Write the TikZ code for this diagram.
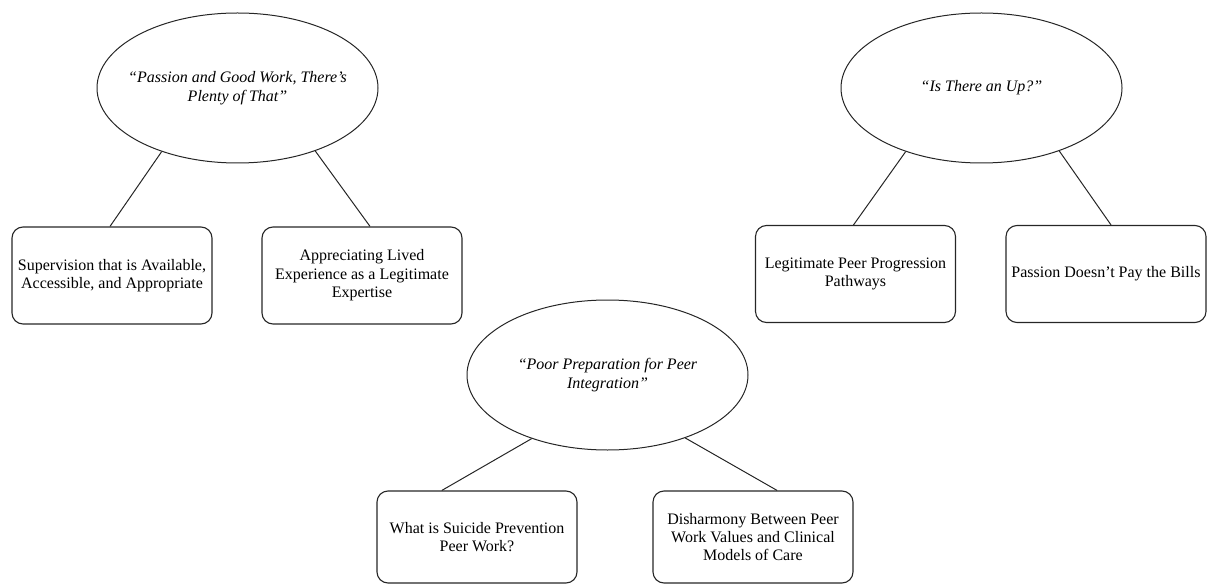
\documentclass[tikz,border=0pt]{standalone}
\usepackage{fontspec}
\setmainfont{Liberation Serif}
\usetikzlibrary{shapes.geometric,calc}
\begin{document}
\begin{tikzpicture}[x=1pt,y=-1pt,
  txt/.style={font=\fontsize{16}{18.4}\selectfont},
  theme/.style={draw=black!85,line width=1pt,ellipse,minimum width=281pt,minimum height=150pt,inner sep=0pt},
  sub/.style={draw=black!85,line width=1.1pt,rectangle,rounded corners=11pt,minimum width=200pt,minimum height=97pt,inner sep=0pt,align=center,txt},
  link/.style={draw=black!85,line width=1pt},
  lab/.style={align=center,font=\fontsize{16}{18.4}\selectfont\itshape}]
\useasboundingbox (0,0) rectangle (1207,585);
% themes
\node[theme,label={[lab]center:“Passion and Good Work, There’s\\Plenty of That”}] (e1) at (237.5,88) {};
\node[theme,label={[lab]center:“Is There an Up?”}] (e2) at (981.5,88) {};
\node[theme,label={[lab]center:“Poor Preparation for Peer\\Integration”}] (e3) at (607.5,375) {};
% subthemes
\node[sub] (b1) at (112,275.5) {Supervision that is Available,\\Accessible, and Appropriate};
\node[sub] (b2) at (362,275.5) {Appreciating Lived\\Experience as a Legitimate\\Expertise};
\node[sub] (b3) at (855.5,274) {Legitimate Peer Progression\\Pathways};
\node[sub] (b4) at (1106,274) {Passion Doesn’t Pay the Bills};
\node[sub,minimum height=92pt] (b5) at (477,537) {What is Suicide Prevention\\Peer Work?};
\node[sub,minimum height=92pt] (b6) at (753,537) {Disharmony Between Peer\\Work Values and Clinical\\Models of Care};
% connectors
\draw[link] (e1.220) -- ($(b1.north west)!0.49!(b1.north east)$);
\draw[link] (e1.321) -- ($(b2.north west)!0.54!(b2.north east)$);
\draw[link] (e2.220) -- ($(b3.north west)!0.49!(b3.north east)$);
\draw[link] (e2.321) -- ($(b4.north west)!0.525!(b4.north east)$);
\draw[link] (e3.220) -- ($(b5.north west)!0.325!(b5.north east)$);
\draw[link] (e3.321) -- ($(b6.north west)!0.62!(b6.north east)$);
\end{tikzpicture}
\end{document}
